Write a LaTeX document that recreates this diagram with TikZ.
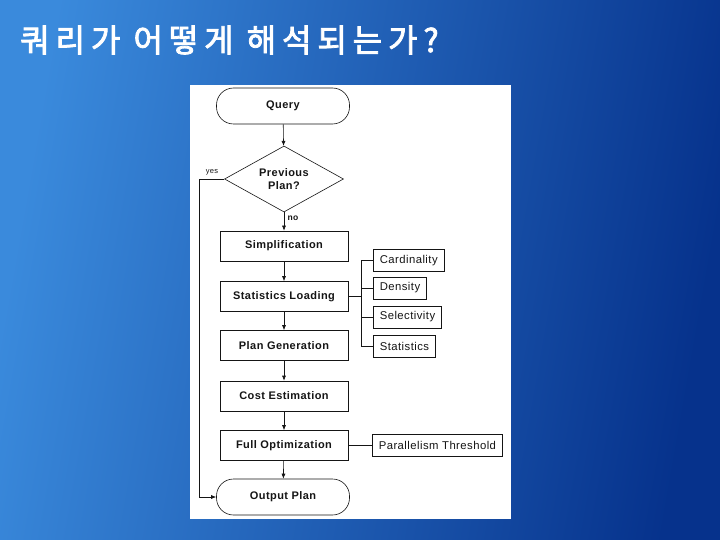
\documentclass[tikz,border=0pt]{standalone}
\usepackage{fontspec}
\setmainfont{Liberation Sans}
\newfontfamily\flowfont{Liberation Sans}[LetterSpace=4.0]
\newfontfamily\kofont{Noto Sans CJK KR}[LetterSpace=18.5, BoldFont={Noto Sans CJK KR}, BoldFeatures={FakeBold=2.5}]
\usetikzlibrary{positioning, arrows.meta, shapes.geometric}
\definecolor{bgLight}{HTML}{3A8ADC}
\definecolor{bgDark}{HTML}{06328C}
\definecolor{fInk}{HTML}{151515}
\tikzset{
  stage/.style={draw=fInk, fill=white, line width=0.6pt, minimum width=128pt, minimum height=30pt,
    inner sep=0pt, text=fInk, font=\flowfont\bfseries\fontsize{11}{13}\selectfont},
  term/.style={stage, rounded corners=17pt, minimum width=133pt, minimum height=36pt},
  decide/.style={draw=fInk, fill=white, line width=0.6pt, diamond, shape aspect=1.8, minimum width=119pt,
    minimum height=66pt, inner sep=0pt, align=center, text=fInk, font=\flowfont\bfseries\fontsize{11}{13}\selectfont},
  param/.style={draw=fInk, fill=white, line width=0.6pt, minimum height=22pt, inner xsep=6.5pt, anchor=west,
    text=fInk, font=\flowfont\fontsize{11.3}{13}\selectfont},
  flow/.style={-{Latex[length=5pt,width=4pt]}, fInk, line width=0.6pt},
  link/.style={fInk, line width=0.6pt}
}
\begin{document}
\begin{tikzpicture}[x=1pt, y=-1pt]
  \useasboundingbox (0,0) rectangle (720,540);
  \shade[left color=bgLight, right color=bgDark, shading angle=80] (0,0) rectangle (720,540);
  \node[anchor=west, text=white, inner sep=0pt, font=\kofont\bfseries\fontsize{32}{36}\selectfont] (title) at (20,40)
    {쿼리가 어떻게 해석되는가?};
  \fill[white] (190,85) rectangle (511,519);

  \node[term] (query) at (283,106) {Query};
  \node[decide] (prev) at (284,179) {Previous\\Plan?};
  \foreach \n/\t/\y in {simp/Simplification/246, load/Statistics Loading/296.5, gen/Plan Generation/345.5,
    cost/Cost Estimation/396, full/Full Optimization/445.5}
    {\node[stage] (\n) at (284,\y) {\t};}
  \node[term] (out) at (283,497) {Output Plan};

  \foreach \n/\t/\y in {card/Cardinality/260.5, dens/Density/288, sel/Selectivity/317, stat/Statistics/346}
    {\node[param] (\n) at (373,\y) {\t};}
  \node[param] (par) at (372,445.5) {Parallelism Threshold};

  \draw[flow] (query) -- (prev);
  \draw[flow] (prev) -- node[right, pos=0.35, font=\flowfont\bfseries\fontsize{8.5}{9}\selectfont, text=fInk] (nolbl) {no} (simp);
  \foreach \a/\b in {simp/load, load/gen, gen/cost, cost/full, full/out}
    {\draw[flow] (\a) -- (\b);}

  \coordinate (yesbend) at (199,179);
  \draw[flow] (prev.west) -- (yesbend) |- (out.west);
  \node[font=\flowfont\fontsize{7.5}{8}\selectfont, text=fInk] (yeslbl) at (212,172.5) {yes};

  \coordinate (trunk) at (361,296.5);
  \draw[link] (load.east) -- (trunk);
  \draw[link] (trunk |- card.west) -- (trunk |- stat.west);
  \foreach \n in {card,dens,sel,stat}
    {\draw[link] (trunk |- \n.west) -- (\n.west);}
  \draw[link] (full.east) -- (par.west);
\end{tikzpicture}
\end{document}
